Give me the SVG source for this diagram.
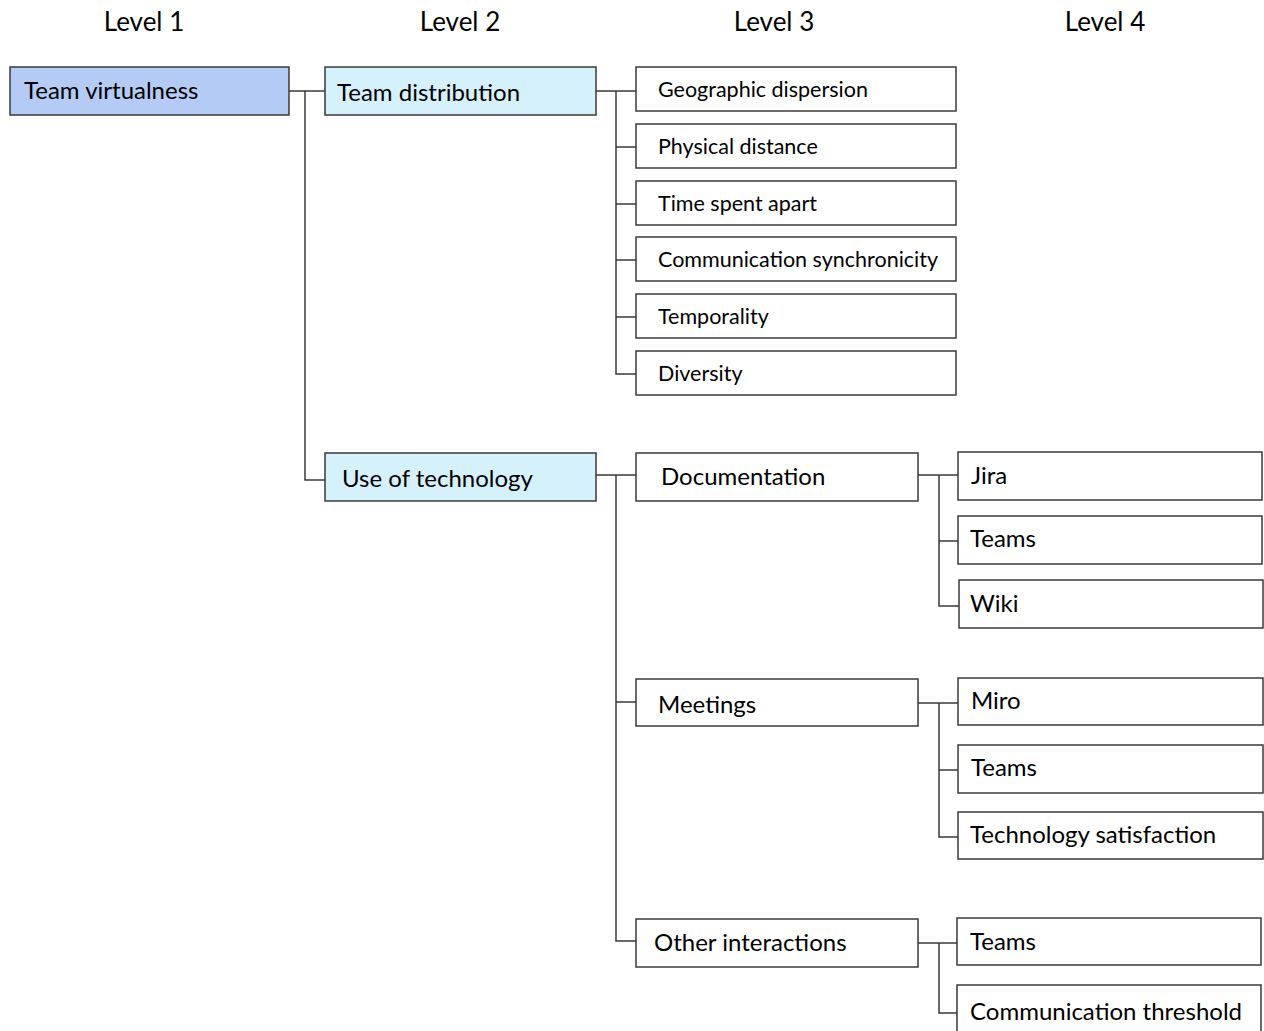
<svg xmlns="http://www.w3.org/2000/svg" width="1264" height="1031" viewBox="0 0 1264 1031">
<style>
text{font-family:Lato,"Liberation Sans",sans-serif;fill:#000}
.hd{font-size:26px;text-anchor:middle}
.box{fill:#fff;stroke:#3a3a3a;stroke-width:1.5}
.l1{fill:#b3cbf5;stroke:#3a3a3a;stroke-width:1.5}
.l2{fill:#d4f1fc;stroke:#3a3a3a;stroke-width:1.5}
.t22{font-size:24px}
.t20{font-size:21.5px}
.con path{fill:none;stroke:#3a3a3a;stroke-width:1.5}
</style>
<rect width="1264" height="1031" fill="#fff"/>
<g id="headers">
<text class="hd" x="144" y="31">Level 1</text>
<text class="hd" x="460" y="31">Level 2</text>
<text class="hd" x="774" y="31">Level 3</text>
<text class="hd" x="1105" y="31">Level 4</text>
</g>
<g class="con" id="connectors">
<path d="M289 91H325M305 91V480H325"/>
<path d="M596 91H636M616 91V374H636M616 147H636M616 204H636M616 260H636M616 317H636"/>
<path d="M596 475H636M616 475V941H636M616 702H636"/>
<path d="M918 475H958M939 475V606H959M939 541H958"/>
<path d="M918 703H958M939 703V837H958M939 770H958"/>
<path d="M918 943H957M939 943V1013H957"/>
</g>
<g id="n-team-virtualness"><rect class="l1" x="10" y="67" width="279" height="48"/><text class="t22" x="24" y="99">Team virtualness</text></g>
<g id="n-team-distribution"><rect class="l2" x="325" y="67" width="271" height="48"/><text class="t22" x="337" y="101">Team distribution</text></g>
<g id="n-use-of-technology"><rect class="l2" x="325" y="453" width="271" height="48"/><text class="t22" x="342" y="487">Use of technology</text></g>
<g id="n-geographic"><rect class="box" x="636" y="67" width="320" height="44"/><text class="t20" x="658" y="97">Geographic dispersion</text></g>
<g id="n-physical"><rect class="box" x="636" y="124" width="320" height="44"/><text class="t20" x="658" y="154">Physical distance</text></g>
<g id="n-time"><rect class="box" x="636" y="181" width="320" height="44"/><text class="t20" x="658" y="211">Time spent apart</text></g>
<g id="n-comm-sync"><rect class="box" x="636" y="237" width="320" height="44"/><text class="t20" x="658" y="267">Communication synchronicity</text></g>
<g id="n-temporality"><rect class="box" x="636" y="294" width="320" height="44"/><text class="t20" x="658" y="324">Temporality</text></g>
<g id="n-diversity"><rect class="box" x="636" y="351" width="320" height="44"/><text class="t20" x="658" y="381">Diversity</text></g>
<g id="n-documentation"><rect class="box" x="636" y="453" width="282" height="48"/><text class="t22" x="661" y="485">Documentation</text></g>
<g id="n-meetings"><rect class="box" x="636" y="679" width="282" height="47"/><text class="t22" x="658" y="713">Meetings</text></g>
<g id="n-other"><rect class="box" x="636" y="919" width="282" height="48"/><text class="t22" x="654" y="951">Other interactions</text></g>
<g id="n-jira"><rect class="box" x="958" y="452" width="304" height="48"/><text class="t22" x="971" y="484">Jira</text></g>
<g id="n-teams-doc"><rect class="box" x="958" y="516" width="304" height="48"/><text class="t22" x="970" y="547">Teams</text></g>
<g id="n-wiki"><rect class="box" x="959" y="580" width="304" height="48"/><text class="t22" x="970" y="612">Wiki</text></g>
<g id="n-miro"><rect class="box" x="958" y="678" width="305" height="47"/><text class="t22" x="971" y="709">Miro</text></g>
<g id="n-teams-meet"><rect class="box" x="958" y="745" width="305" height="48"/><text class="t22" x="971" y="776">Teams</text></g>
<g id="n-tech-sat"><rect class="box" x="958" y="812" width="305" height="47"/><text class="t22" x="970" y="843">Technology satisfaction</text></g>
<g id="n-teams-other"><rect class="box" x="957" y="918" width="304" height="47"/><text class="t22" x="970" y="950">Teams</text></g>
<g id="n-comm-threshold"><rect class="box" x="957" y="985" width="304" height="50"/><text class="t22" x="970" y="1020">Communication threshold</text></g>
</svg>
